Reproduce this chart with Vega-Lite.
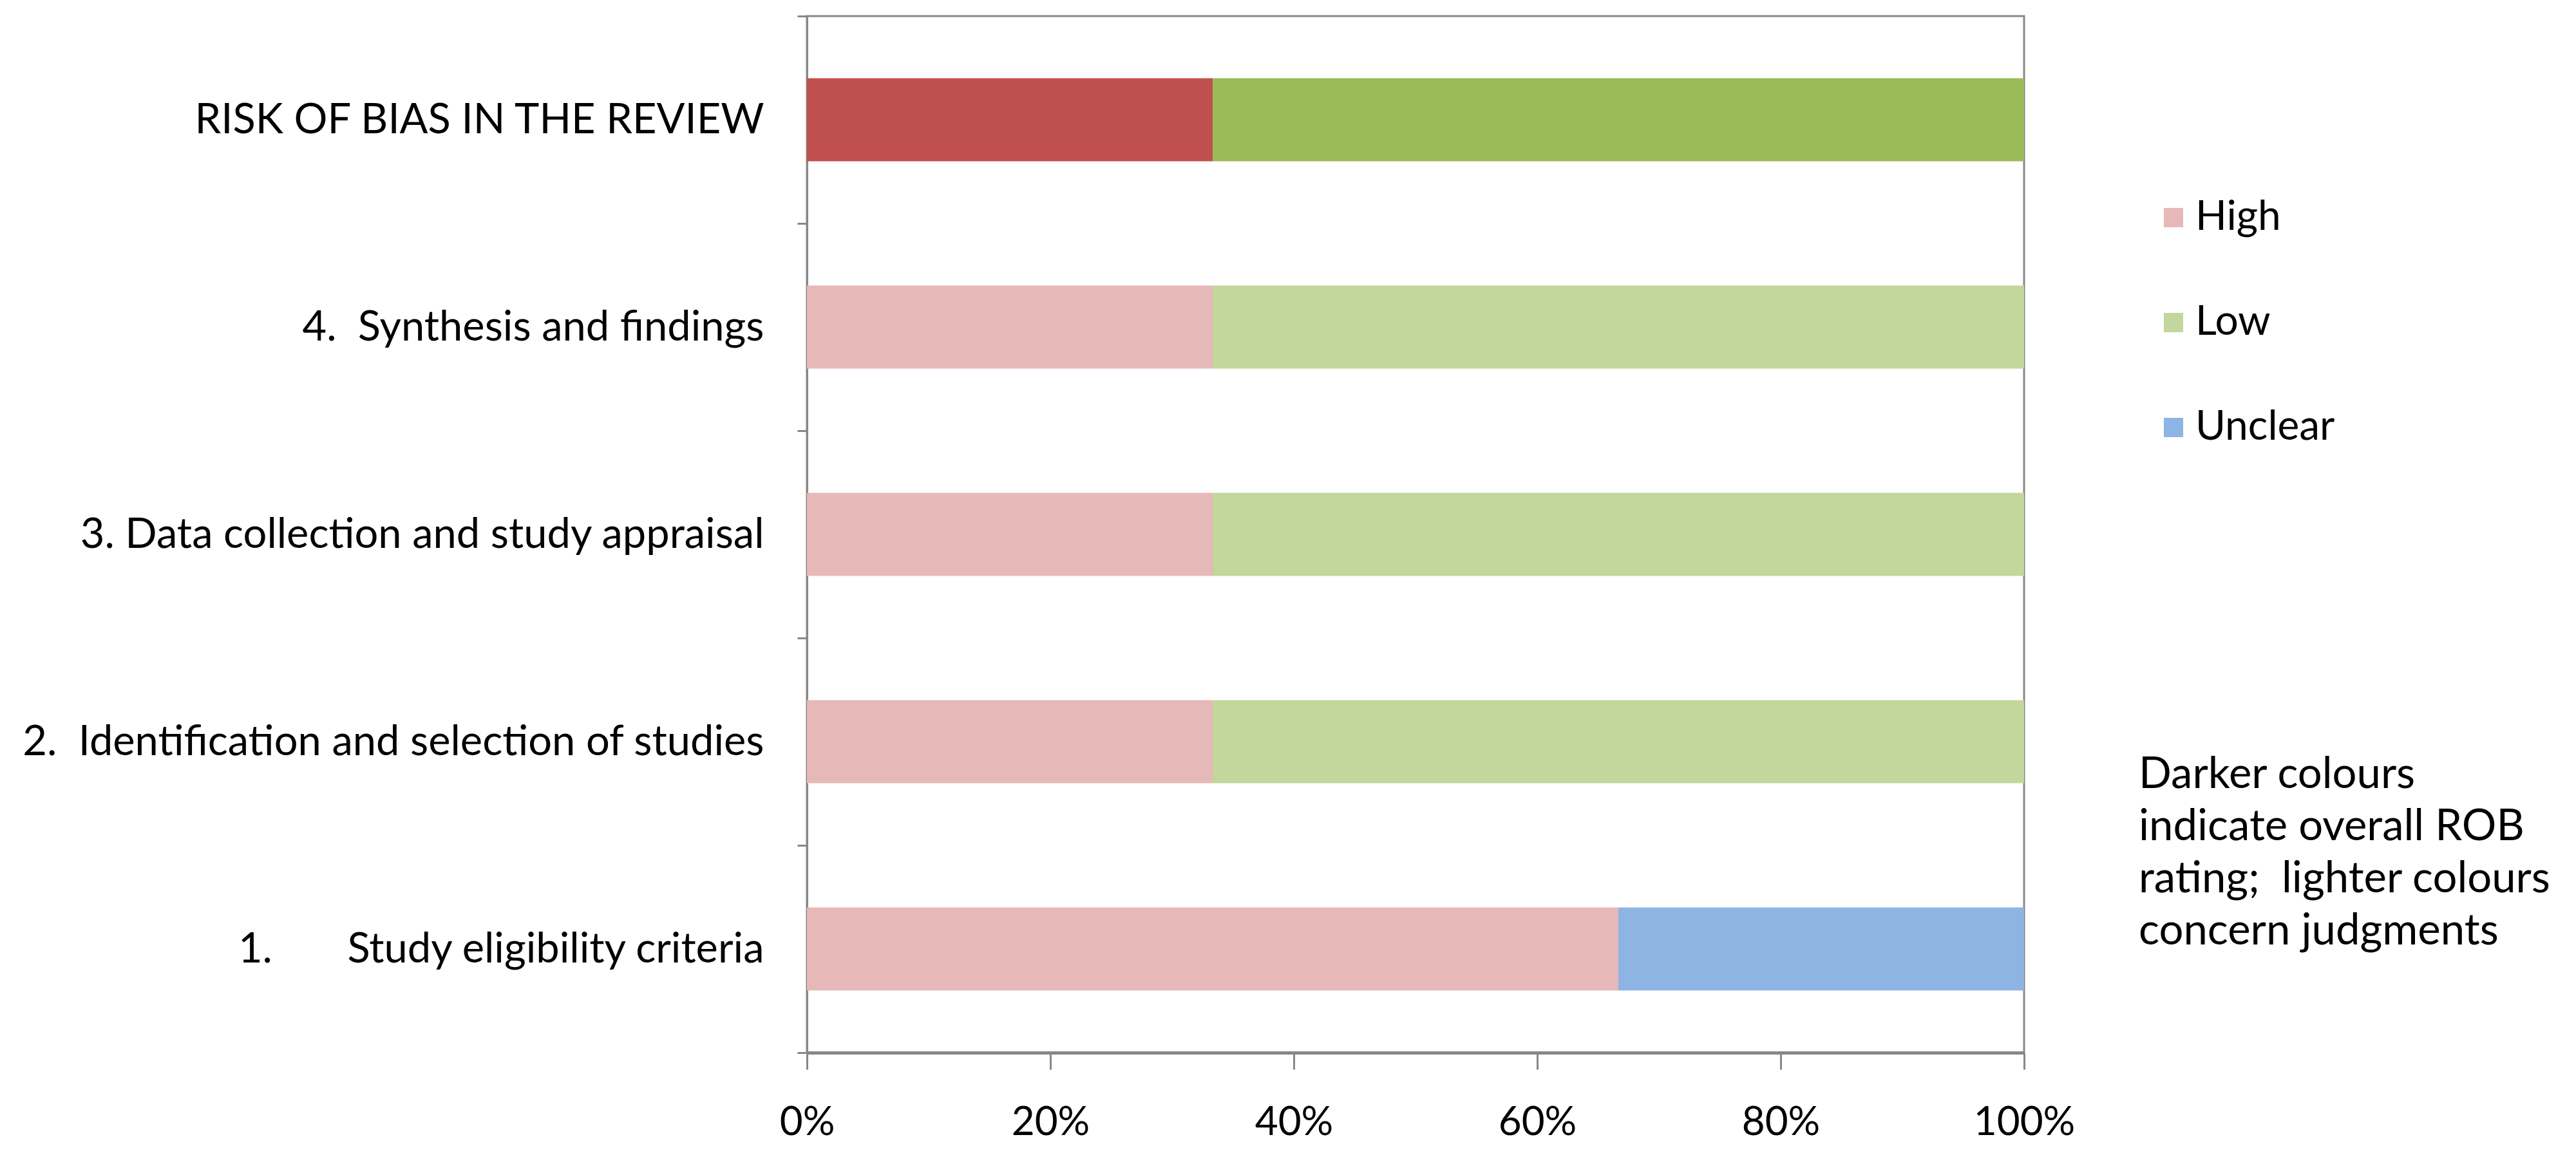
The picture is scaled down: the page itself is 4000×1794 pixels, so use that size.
{
  "$schema": "https://vega.github.io/schema/vega-lite/v6.json",
  "width": 1890,
  "height": 1610,
  "autosize": {"type": "none"},
  "padding": {"left": 1253, "top": 25, "right": 857, "bottom": 159},
  "background": "white",
  "config": {
    "font": "Lato, sans-serif",
    "view": {"stroke": "#888888", "strokeWidth": 3}
  },
  "data": {
    "values": [
      {"domain": "RISK OF BIAS IN THE REVIEW", "rating": "High (overall)", "count": 1},
      {"domain": "RISK OF BIAS IN THE REVIEW", "rating": "Low (overall)", "count": 2},
      {"domain": "4.\u00a0\u00a0Synthesis and findings", "rating": "High", "count": 1},
      {"domain": "4.\u00a0\u00a0Synthesis and findings", "rating": "Low", "count": 2},
      {"domain": "3. Data collection and study appraisal", "rating": "High", "count": 1},
      {"domain": "3. Data collection and study appraisal", "rating": "Low", "count": 2},
      {"domain": "2.\u00a0\u00a0Identification and selection of studies", "rating": "High", "count": 1},
      {"domain": "2.\u00a0\u00a0Identification and selection of studies", "rating": "Low", "count": 2},
      {"domain": "1.\u00a0\u00a0\u00a0\u00a0\u00a0\u00a0\u00a0Study eligibility criteria\u00a0\u00a0", "rating": "High", "count": 2},
      {"domain": "1.\u00a0\u00a0\u00a0\u00a0\u00a0\u00a0\u00a0Study eligibility criteria\u00a0\u00a0", "rating": "Unclear", "count": 1}
    ]
  },
  "mark": {"type": "bar", "height": {"band": 0.4}},
  "encoding": {
    "y": {
      "field": "domain",
      "type": "nominal",
      "sort": ["RISK OF BIAS IN THE REVIEW", "4.\u00a0\u00a0Synthesis and findings", "3. Data collection and study appraisal", "2.\u00a0\u00a0Identification and selection of studies", "1.\u00a0\u00a0\u00a0\u00a0\u00a0\u00a0\u00a0Study eligibility criteria\u00a0\u00a0"],
      "scale": {"paddingInner": 0, "paddingOuter": 0},
      "axis": {
        "title": null,
        "tickBand": "extent",
        "tickSize": 15,
        "tickWidth": 3,
        "tickColor": "#888888",
        "domainColor": "#888888",
        "domainWidth": 3,
        "labelFontSize": 65,
        "labelColor": "#000000",
        "labelPadding": 52,
        "labelLimit": 2000
      }
    },
    "x": {
      "field": "count",
      "type": "quantitative",
      "stack": "normalize",
      "scale": {"domain": [0, 1], "nice": false},
      "axis": {
        "title": null,
        "values": [0, 0.2, 0.4, 0.6, 0.8, 1],
        "format": ".0%",
        "grid": false,
        "tickSize": 26,
        "tickWidth": 3,
        "tickColor": "#888888",
        "domainColor": "#888888",
        "domainWidth": 5,
        "labelFontSize": 62,
        "labelColor": "#000000",
        "labelPadding": 52,
        "labelFlush": false
      }
    },
    "color": {
      "field": "rating",
      "type": "nominal",
      "scale": {
        "domain": ["High", "Low", "Unclear", "High (overall)", "Low (overall)"],
        "range": ["#E6B9B8", "#C3D69B", "#8EB4E3", "#C0504D", "#9BBB59"]
      },
      "legend": {
        "values": ["High", "Low", "Unclear"],
        "orient": "none",
        "legendX": 2068,
        "legendY": 281,
        "padding": 0,
        "symbolType": "square",
        "symbolSize": 900,
        "symbolStrokeWidth": 0,
        "symbolOffset": 22,
        "labelFontSize": 64,
        "labelLimit": 1000,
        "labelColor": "#000000",
        "labelOffset": 2,
        "rowPadding": 99,
        "title": ["Darker colours", "indicate overall ROB", "rating;\u00a0\u00a0lighter colours", "concern judgments"],
        "titleOrient": "bottom",
        "titleAnchor": "start",
        "titleAlign": "left",
        "titleFontSize": 67,
        "titleFontWeight": "normal",
        "titleColor": "#000000",
        "titleLineHeight": 81,
        "titlePadding": 475,
        "titleLimit": 3000
      }
    }
  }
}
